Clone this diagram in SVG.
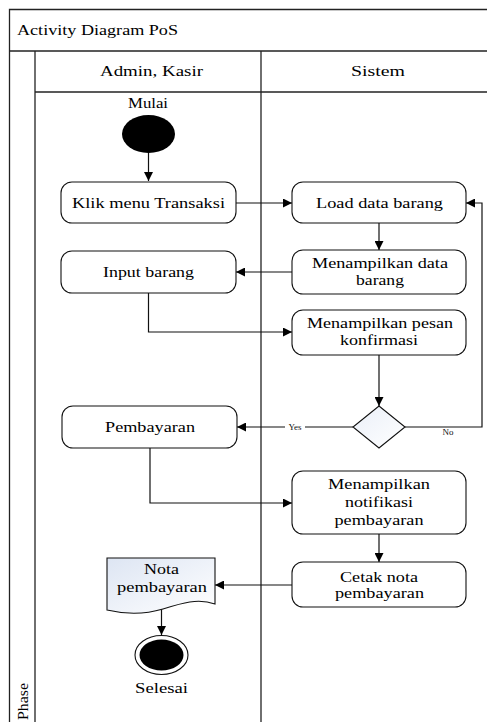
<svg xmlns="http://www.w3.org/2000/svg" width="487" height="722" viewBox="0 0 487 722">
  <style>
    .frame { fill: none; stroke: #222; stroke-width: 1.3; }
    .act { fill: #fff; stroke: #111; stroke-width: 1.1; }
    .lbl { font-family: "Liberation Serif", "Times New Roman", serif; font-size: 15px; fill: #000; text-anchor: middle; }
    .lft { text-anchor: start; }
    .small { font-family: "Liberation Serif", "Times New Roman", serif; font-size: 9px; fill: #111; text-anchor: middle; }
    .edge { fill: none; stroke: #111; stroke-width: 1.2; }
  </style>
  <defs>
    <marker id="arrow" markerUnits="userSpaceOnUse" markerWidth="9" markerHeight="9" refX="9" refY="4.5" orient="auto">
      <path d="M0,0 L9,4.5 L0,9 Z" fill="#000"/>
    </marker>
    <linearGradient id="diamondFill" x1="0" y1="0" x2="1" y2="1">
      <stop offset="0" stop-color="#eaeff8"/>
      <stop offset="1" stop-color="#ffffff"/>
    </linearGradient>
    <linearGradient id="docFill" x1="0" y1="0" x2="1" y2="1">
      <stop offset="0" stop-color="#dde5f3"/>
      <stop offset="1" stop-color="#ffffff"/>
    </linearGradient>
  </defs>

  <rect width="487" height="722" fill="#fff"/>

  <!-- Pool frame, title bar and swimlanes -->
  <g id="pool">
    <path class="frame" d="M490,9.5 H9.5 V725"/>
    <line class="frame" x1="9.5" y1="51" x2="490" y2="51"/>
    <line class="frame" x1="35" y1="51" x2="35" y2="725"/>
    <line class="frame" x1="35" y1="92" x2="490" y2="92"/>
    <line class="frame" x1="261" y1="51" x2="261" y2="725"/>
    <text class="lbl lft" x="17" y="35" textLength="161" lengthAdjust="spacingAndGlyphs">Activity Diagram PoS</text>
    <text class="lbl" x="151.5" y="76" textLength="103" lengthAdjust="spacingAndGlyphs">Admin, Kasir</text>
    <text class="lbl" x="378" y="76" textLength="54" lengthAdjust="spacingAndGlyphs">Sistem</text>
    <text class="lbl lft" transform="translate(28,720) rotate(-90)" x="0" y="0" textLength="37" lengthAdjust="spacingAndGlyphs">Phase</text>
  </g>

  <!-- Connectors -->
  <g id="connectors">
    <path class="edge" d="M148.5,153 V181" marker-end="url(#arrow)"/>
    <path class="edge" d="M236,203 H292" marker-end="url(#arrow)"/>
    <path class="edge" d="M379,223 V250" marker-end="url(#arrow)"/>
    <path class="edge" d="M292,272 H236" marker-end="url(#arrow)"/>
    <path class="edge" d="M148.5,293 V332 H292" marker-end="url(#arrow)"/>
    <path class="edge" d="M379,355 V406" marker-end="url(#arrow)"/>
    <path class="edge" d="M353,427 H237" marker-end="url(#arrow)"/>
    <path class="edge" d="M405,427 H482 V203 H466" marker-end="url(#arrow)"/>
    <path class="edge" d="M150,448 V503 H292" marker-end="url(#arrow)"/>
    <path class="edge" d="M379,534 V562" marker-end="url(#arrow)"/>
    <path class="edge" d="M292,585 H215" marker-end="url(#arrow)"/>
    <path class="edge" d="M161.5,609 V635" marker-end="url(#arrow)"/>
    <rect x="285" y="422" width="20" height="10" fill="#fff"/>
    <text class="small" x="295" y="430">Yes</text>
    <rect x="440" y="428" width="17" height="9" fill="#fff"/>
    <text class="small" x="448" y="435">No</text>
  </g>

  <!-- Nodes -->
  <g id="start">
    <ellipse cx="148.5" cy="134" rx="26.5" ry="19" fill="#000"/>
    <text class="lbl" x="148" y="108" textLength="40" lengthAdjust="spacingAndGlyphs">Mulai</text>
  </g>

  <g id="klik-menu-transaksi">
    <rect class="act" x="61" y="182" width="175" height="41" rx="11"/>
    <text class="lbl" x="148.5" y="208" textLength="153" lengthAdjust="spacingAndGlyphs">Klik menu Transaksi</text>
  </g>

  <g id="load-data-barang">
    <rect class="act" x="292" y="182" width="174" height="41" rx="11"/>
    <text class="lbl" x="379.5" y="208" textLength="127" lengthAdjust="spacingAndGlyphs">Load data barang</text>
  </g>

  <g id="menampilkan-data-barang">
    <rect class="act" x="292" y="250" width="174" height="44" rx="11"/>
    <text class="lbl" x="380" y="268" textLength="136" lengthAdjust="spacingAndGlyphs">Menampilkan data</text>
    <text class="lbl" x="380" y="285" textLength="48" lengthAdjust="spacingAndGlyphs">barang</text>
  </g>

  <g id="input-barang">
    <rect class="act" x="61" y="251" width="175" height="42" rx="11"/>
    <text class="lbl" x="148.5" y="277" textLength="91" lengthAdjust="spacingAndGlyphs">Input barang</text>
  </g>

  <g id="menampilkan-pesan-konfirmasi">
    <rect class="act" x="292" y="310" width="174" height="45" rx="11"/>
    <text class="lbl" x="380" y="328" textLength="146" lengthAdjust="spacingAndGlyphs">Menampilkan pesan</text>
    <text class="lbl" x="379" y="345" textLength="78" lengthAdjust="spacingAndGlyphs">konfirmasi</text>
  </g>

  <g id="decision">
    <path d="M379,406 L405,427 L379,448 L353,427 Z" fill="url(#diamondFill)" stroke="#111" stroke-width="1.1"/>
  </g>

  <g id="pembayaran">
    <rect class="act" x="62" y="406" width="175" height="42" rx="11"/>
    <text class="lbl" x="150" y="432" textLength="90" lengthAdjust="spacingAndGlyphs">Pembayaran</text>
  </g>

  <g id="menampilkan-notifikasi-pembayaran">
    <rect class="act" x="292" y="471" width="174" height="63" rx="11"/>
    <text class="lbl" x="379" y="489" textLength="102" lengthAdjust="spacingAndGlyphs">Menampilkan</text>
    <text class="lbl" x="379" y="507" textLength="68" lengthAdjust="spacingAndGlyphs">notifikasi</text>
    <text class="lbl" x="379" y="525" textLength="89" lengthAdjust="spacingAndGlyphs">pembayaran</text>
  </g>

  <g id="cetak-nota-pembayaran">
    <rect class="act" x="292" y="562" width="174" height="45" rx="11"/>
    <text class="lbl" x="379" y="582" textLength="78" lengthAdjust="spacingAndGlyphs">Cetak nota</text>
    <text class="lbl" x="379.5" y="598" textLength="89" lengthAdjust="spacingAndGlyphs">pembayaran</text>
  </g>

  <g id="nota-pembayaran">
    <path d="M107,558 H215 V604 C198,598 182,603 163,609 C143,615 124,614 107,610 Z" fill="url(#docFill)" stroke="#111" stroke-width="1.1"/>
    <text class="lbl" x="161.5" y="574" textLength="35" lengthAdjust="spacingAndGlyphs">Nota</text>
    <text class="lbl" x="162" y="592" textLength="90" lengthAdjust="spacingAndGlyphs">pembayaran</text>
  </g>

  <g id="end">
    <ellipse cx="161.5" cy="655" rx="26.5" ry="19.5" fill="#fff" stroke="#111" stroke-width="1.1"/>
    <ellipse cx="161.5" cy="655" rx="22" ry="15.5" fill="#000"/>
    <text class="lbl" x="161.5" y="693" textLength="53" lengthAdjust="spacingAndGlyphs">Selesai</text>
  </g>
</svg>
